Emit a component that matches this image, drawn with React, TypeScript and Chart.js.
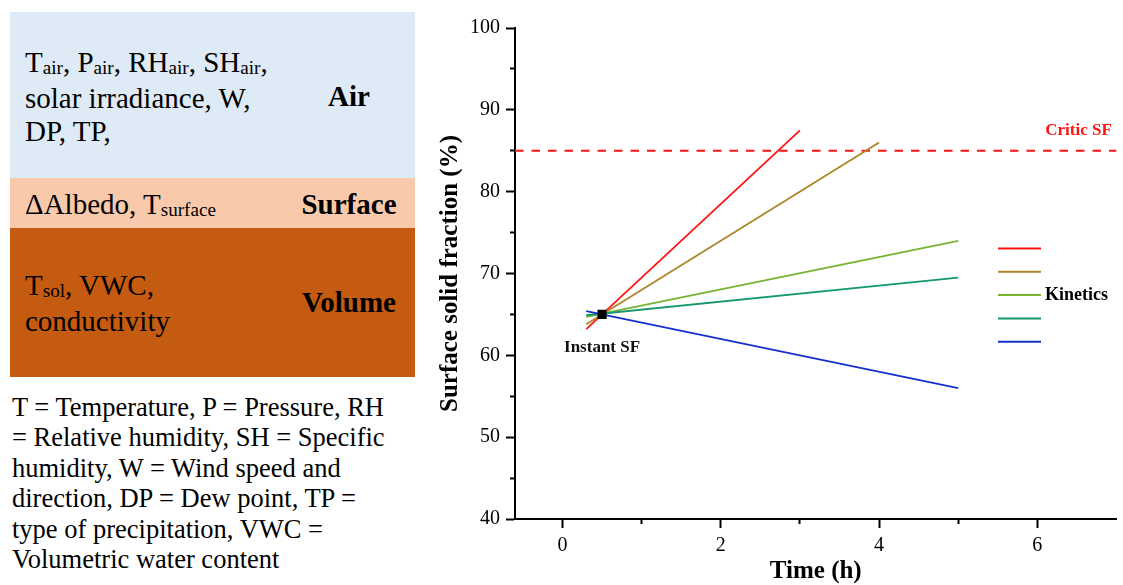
import React, { useEffect, useRef } from "react";
import { Chart, registerables } from "chart.js";

Chart.register(...registerables);

// ---- data ----
const RED_X = [0.3, 3.0];
const RED_Y = [63.2, 87.5];
const BROWN_X = [0.3, 4.0];
const BROWN_Y = [63.8, 86.0];
const LGREEN_X = [0.3, 5.0];
const LGREEN_Y = [64.7, 74.0];
const TEAL_X = [0.3, 5.0];
const TEAL_Y = [64.9, 69.5];
const BLUE_X = [0.3, 5.0];
const BLUE_Y = [65.4, 56.0];
const INSTANT_X = [0.5];
const INSTANT_Y = [65.0];
const CRITIC_X = [-0.6, 7.0];
const CRITIC_Y = [85, 85];

const X_MIN = -0.6;
const X_MAX = 7;
const X_LABELLED = [0, 2, 4, 6];
const Y_MIN = 40;
const Y_MAX = 100;
const Y_LABELLED = [40, 50, 60, 70, 80, 90, 100];

const COLORS = ["#ff1414", "#ab8629", "#79b32f", "#17996c", "#1531c8"];

const SERIF = "'Liberation Serif', 'Times New Roman', serif";

const pts = (xs: number[], ys: number[]) => xs.map((x, i) => ({ x, y: ys[i] }));

const annotPlugin = {
  id: "annot",
  afterDatasetsDraw(chart: any) {
    const { ctx, chartArea, scales } = chart;
    const xs = scales.x;
    const ys = scales.y;
    ctx.save();
    // Critic SF label
    ctx.fillStyle = "#ff1414";
    ctx.font = `bold 17px ${SERIF}`;
    ctx.textAlign = "center";
    ctx.textBaseline = "middle";
    ctx.fillText("Critic SF", chartArea.right - 38, ys.getPixelForValue(CRITIC_Y[0]) - 20);
    // Instant SF label
    ctx.fillStyle = "#111";
    ctx.font = `bold 17px ${SERIF}`;
    ctx.fillText(
      "Instant SF",
      xs.getPixelForValue(INSTANT_X[0]),
      ys.getPixelForValue(INSTANT_Y[0]) + 33
    );
    // legend
    const lx1 = 568;
    const lx2 = 611;
    const ly0 = 248.5;
    const step = 23.3;
    COLORS.forEach((c, i) => {
      ctx.strokeStyle = c;
      ctx.lineWidth = 2;
      ctx.beginPath();
      ctx.moveTo(lx1, ly0 + i * step);
      ctx.lineTo(lx2, ly0 + i * step);
      ctx.stroke();
    });
    ctx.fillStyle = "#000";
    ctx.font = `bold 18px ${SERIF}`;
    ctx.textAlign = "left";
    ctx.fillText("Kinetics", 615, ly0 + 2 * step);
    ctx.restore();
  },
};

function ChartPanel() {
  const ref = useRef<HTMLCanvasElement | null>(null);
  useEffect(() => {
    if (!ref.current) return;
    const lineDs = (xs: number[], ys: number[], color: string) => ({
      type: "line" as const,
      data: pts(xs, ys),
      borderColor: color,
      backgroundColor: color,
      borderWidth: 1.8,
      pointRadius: 0,
      fill: false,
    });
    const chart = new Chart(ref.current, {
      type: "line",
      data: {
        datasets: [
          {
            type: "line",
            data: pts(INSTANT_X, INSTANT_Y),
            showLine: false,
            pointStyle: "rect",
            pointRadius: 6.5,
            backgroundColor: "#000",
            borderColor: "#000",
            borderWidth: 0,
          } as any,
          lineDs(BLUE_X, BLUE_Y, COLORS[4]),
          lineDs(TEAL_X, TEAL_Y, COLORS[3]),
          lineDs(LGREEN_X, LGREEN_Y, COLORS[2]),
          lineDs(BROWN_X, BROWN_Y, COLORS[1]),
          lineDs(RED_X, RED_Y, COLORS[0]),
          {
            type: "line",
            data: pts(CRITIC_X, CRITIC_Y),
            borderColor: "#ff1414",
            borderWidth: 2,
            borderDash: [8.5, 8],
            pointRadius: 0,
          } as any,
        ],
      },
      options: {
        animation: false,
        responsive: false,
        devicePixelRatio: 1,
        layout: { padding: { top: 28, right: 0, bottom: 0, left: 0 } },
        plugins: { legend: { display: false }, tooltip: { enabled: false } },
        scales: {
          x: {
            type: "linear",
            min: X_MIN,
            max: X_MAX,
            afterFit: (s: any) => {
              s.height = 66;
            },
            ticks: {
              stepSize: 1,
              includeBounds: false,
              autoSkip: false,
              maxRotation: 0,
              padding: 6,
              color: "#000",
              font: { family: SERIF, size: 20 },
              callback: (v: any) =>
                v > 6 ? null : X_LABELLED.includes(v) ? String(v) : "",
            },
            grid: {
              drawOnChartArea: false,
              drawTicks: true,
              tickLength: 9,
              tickColor: "#000",
              tickWidth: 2,
              tickBorderDash: (c: any) =>
                c.tick && X_LABELLED.includes(c.tick.value) ? [] : [4, 20],
            },
            border: { color: "#000", width: 2 },
            title: {
              display: true,
              text: "Time (h)",
              color: "#000",
              font: { family: SERIF, size: 25, weight: "bold", lineHeight: 1.1 },
              padding: { top: 0, bottom: 0 },
            },
          },
          y: {
            type: "linear",
            min: Y_MIN,
            max: Y_MAX,
            afterFit: (s: any) => {
              s.width = 85;
            },
            ticks: {
              stepSize: 5,
              padding: 6,
              color: "#000",
              font: { family: SERIF, size: 20 },
              callback: (v: any) => (Y_LABELLED.includes(v) ? String(v) : ""),
            },
            grid: {
              drawOnChartArea: false,
              drawTicks: true,
              tickLength: 9,
              tickColor: "#000",
              tickWidth: 2,
              tickBorderDash: (c: any) =>
                c.tick && Y_LABELLED.includes(c.tick.value) ? [] : [4, 20],
              tickBorderDashOffset: (c: any) =>
                c.tick && Y_LABELLED.includes(c.tick.value) ? 0 : 20,
            },
            border: { color: "#000", width: 2 },
            title: {
              display: true,
              text: "Surface solid fraction (%)",
              color: "#000",
              font: { family: SERIF, size: 25, weight: "bold", lineHeight: 1.1 },
              padding: { top: 7, bottom: 0 },
            },
          },
        },
      } as any,
      plugins: [annotPlugin],
    });
    return () => chart.destroy();
  }, []);
  return (
    <canvas
      ref={ref}
      width={693}
      height={585}
      style={{ position: "absolute", left: 430, top: 0, width: 693, height: 585 }}
    />
  );
}

const Sub = ({ children }: { children: React.ReactNode }) => (
  <span style={{ fontSize: "0.66em", position: "relative", top: "0.12em" }}>{children}</span>
);

export default function App() {
  const boxText: React.CSSProperties = {
    position: "absolute",
    left: 25,
    fontSize: 29,
    lineHeight: "33px",
    whiteSpace: "nowrap",
    color: "#000",
  };
  const label: React.CSSProperties = {
    position: "absolute",
    left: 300,
    width: 98,
    textAlign: "center",
    fontSize: 29,
    fontWeight: "bold",
    lineHeight: "33px",
    color: "#000",
  };
  return (
    <div
      style={{
        position: "absolute",
        left: 0,
        top: 0,
        width: 1123,
        height: 585,
        background: "#fff",
        fontFamily: SERIF,
        overflow: "hidden",
      }}
    >
      <div style={{ position: "absolute", left: 10, top: 12, width: 405, height: 166, background: "#deeaf6" }} />
      <div style={{ position: "absolute", left: 10, top: 178, width: 405, height: 50, background: "#f8caab" }} />
      <div style={{ position: "absolute", left: 10, top: 228, width: 405, height: 149, background: "#c55a11" }} />

      <div style={{ ...boxText, top: 46 }}>
        T<Sub>air</Sub>, P<Sub>air</Sub>, RH<Sub>air</Sub>, SH<Sub>air</Sub>,
        <br />
        solar irradiance, W,
        <br />
        DP, TP,
      </div>
      <div style={{ ...label, top: 80 }}>Air</div>

      <div style={{ ...boxText, top: 188 }}>
        ΔAlbedo, T<Sub>surface</Sub>
      </div>
      <div style={{ ...label, top: 188 }}>Surface</div>

      <div style={{ ...boxText, top: 269 }}>
        T<Sub>sol</Sub>, VWC,
        <br />
        conductivity
      </div>
      <div style={{ ...label, top: 286 }}>Volume</div>

      <div
        style={{
          position: "absolute",
          left: 12,
          top: 392,
          fontSize: 26.5,
          lineHeight: "30.4px",
          whiteSpace: "nowrap",
          color: "#000",
        }}
      >
        T = Temperature, P = Pressure, RH
        <br />= Relative humidity, SH = Specific
        <br />
        humidity, W = Wind speed and
        <br />
        direction, DP = Dew point, TP =
        <br />
        type of precipitation, VWC =
        <br />
        Volumetric water content
      </div>

      <ChartPanel />
    </div>
  );
}
